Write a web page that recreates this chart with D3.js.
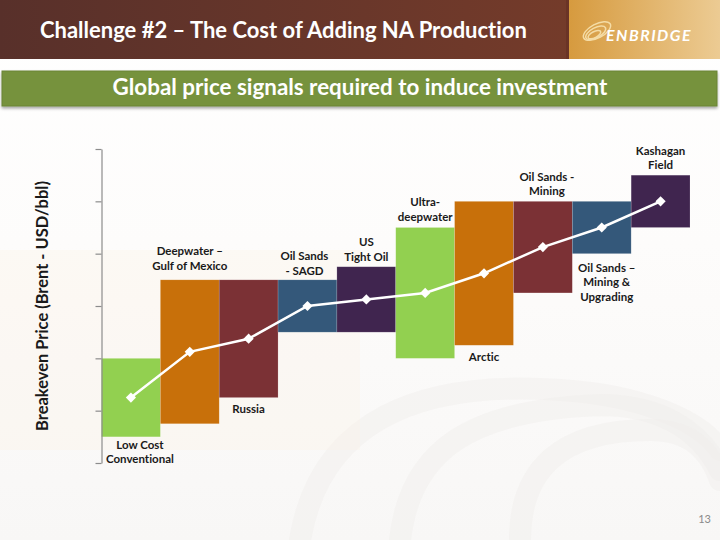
<!DOCTYPE html>
<html>
<head>
<meta charset="utf-8">
<script src="https://cdn.jsdelivr.net/npm/d3@7/dist/d3.min.js"></script>
<style>
  html, body { margin: 0; padding: 0; background: #fff; }
  svg { display: block; }
  text { font-family: Lato, "Open Sans", sans-serif; font-variant-ligatures: none; }
</style>
</head>
<body>
<svg id="chart" width="720" height="540"></svg>
<script>
// ---------- data ----------
const categories = ["Low Cost Conventional", "Deepwater – Gulf of Mexico", "Russia", "Oil Sands - SAGD",
  "US Tight Oil", "Ultra-deepwater", "Arctic", "Oil Sands - Mining", "Oil Sands – Mining & Upgrading", "Kashagan Field"];
const lowValues  = [10, 15, 25, 50, 50, 40, 45, 65, 80, 90];
const highValues = [40, 70, 70, 70, 75, 90, 100, 100, 100, 110];
const midValues  = [25, 42.5, 47.5, 60, 62.5, 65, 72.5, 82.5, 90, 100];
const barColors  = ["#92D050", "#C8700A", "#7B3135", "#34587A", "#40254F",
                    "#92D050", "#C8700A", "#7B3135", "#34587A", "#40254F"];
const labelLines = [["Low Cost", "Conventional"], ["Deepwater –", "Gulf of Mexico"], ["Russia"],
  ["Oil Sands", "- SAGD"], ["US", "Tight Oil"], ["Ultra-", "deepwater"], ["Arctic"],
  ["Oil Sands -", "Mining"], ["Oil Sands –", "Mining &", "Upgrading"], ["Kashagan", "Field"]];
const labelSide  = ["bottom", "top", "bottom", "top", "top", "top", "bottom", "top", "bottom", "top"];
const yTicks = [0, 20, 40, 60, 80, 100, 120];
const titleText = "Challenge #2 – The Cost of Adding NA Production";
const subtitleText = "Global price signals required to induce investment";
const yAxisTitle = "Breakeven Price (Brent - USD/bbl)";
const pageNumber = "13";

// ---------- setup ----------
const svg = d3.select("#chart");
const defs = svg.append("defs");

function fitText(sel, target) {
  const w = sel.node().getComputedTextLength();
  const fs = parseFloat(sel.attr("font-size"));
  sel.attr("font-size", (fs * target / w).toFixed(2));
}

// background
const bg = defs.append("linearGradient").attr("id", "bgGrad").attr("x1", 0).attr("y1", 0).attr("x2", 0).attr("y2", 1);
bg.append("stop").attr("offset", "0%").attr("stop-color", "#ffffff");
bg.append("stop").attr("offset", "45%").attr("stop-color", "#fdfcfb");
bg.append("stop").attr("offset", "100%").attr("stop-color", "#f8f7f6");
svg.append("rect").attr("width", 720).attr("height", 540).attr("fill", "url(#bgGrad)");

// faint pipe-like background shapes
const bgG = svg.append("g").attr("fill", "none").attr("stroke-linecap", "round");
const arcs = [
  "M 300 540 C 320 420, 420 380, 560 390 C 640 395, 700 420, 720 450",
  "M 400 540 C 410 450, 470 410, 600 405 C 660 405, 700 430, 720 470",
  "M 520 540 C 520 470, 560 430, 650 430 C 690 430, 710 450, 720 480"
];
bgG.selectAll("path").data(arcs).enter().append("path")
  .attr("d", d => d).attr("stroke", "#efeeec").attr("stroke-width", 22).attr("opacity", 0.45);
svg.append("rect").attr("x", 0).attr("y", 250).attr("width", 360).attr("height", 200)
  .attr("fill", "#fdf3e6").attr("opacity", 0.3);

// ---------- header ----------
const hg = defs.append("linearGradient").attr("id", "hdrGrad");
hg.append("stop").attr("offset", "0%").attr("stop-color", "#58302A");
hg.append("stop").attr("offset", "100%").attr("stop-color", "#743B2A");
svg.append("rect").attr("x", 0).attr("y", 0).attr("width", 568).attr("height", 59).attr("fill", "url(#hdrGrad)");

const lg = defs.append("linearGradient").attr("id", "logoGrad");
lg.append("stop").attr("offset", "0%").attr("stop-color", "#D69A3E");
lg.append("stop").attr("offset", "100%").attr("stop-color", "#ECCB93");
svg.append("rect").attr("x", 568).attr("y", 0).attr("width", 152).attr("height", 59).attr("fill", "url(#logoGrad)");
svg.append("rect").attr("x", 566).attr("y", 0).attr("width", 3).attr("height", 59).attr("fill", "#6a3326");

const title = svg.append("text").attr("x", 40).attr("y", 38).attr("fill", "#fff")
  .attr("font-weight", "bold").attr("font-size", 20).text(titleText);
fitText(title, 487);

// logo swirl
const sw = svg.append("g").attr("transform", "translate(597,31) rotate(-28)").attr("fill", "none")
  .attr("stroke", "#F4DCA6").attr("stroke-width", 1.5);
sw.append("ellipse").attr("rx", 15).attr("ry", 7);
sw.append("ellipse").attr("cx", -2).attr("cy", 1).attr("rx", 11).attr("ry", 5);
sw.append("ellipse").attr("cx", -4).attr("cy", 2).attr("rx", 7).attr("ry", 3);
const logoText = svg.append("text").attr("x", 606).attr("y", 41).attr("fill", "#fff")
  .attr("font-family", "'DejaVu Sans', sans-serif").attr("font-weight", "bold").attr("font-style", "italic")
  .attr("font-size", 12).attr("letter-spacing", 1.5).text("ENBRIDGE");
fitText(logoText, 90);

// ---------- subtitle bar ----------
const sh = defs.append("filter").attr("id", "shadow").attr("x", "-5%").attr("y", "-20%").attr("width", "110%").attr("height", "160%");
sh.append("feDropShadow").attr("dx", 0).attr("dy", 2).attr("stdDeviation", 1.5).attr("flood-color", "#000").attr("flood-opacity", 0.35);
svg.append("rect").attr("x", 2).attr("y", 71).attr("width", 715).attr("height", 35)
  .attr("fill", "#76923C").attr("stroke", "#6a8436").attr("stroke-width", 1).attr("filter", "url(#shadow)");
const sub = svg.append("text").attr("x", 360).attr("y", 95).attr("text-anchor", "middle").attr("fill", "#fff")
  .attr("font-weight", "bold").attr("font-size", 19).text(subtitleText);
fitText(sub, 495);

// ---------- chart ----------
const y = d3.scaleLinear().domain([0, 120]).range([463, 149]);
const x = d3.scaleBand().domain(categories).range([101.5, 690]).padding(0);

// bars
svg.append("g").selectAll("rect").data(categories).enter().append("rect")
  .attr("x", d => x(d)).attr("width", x.bandwidth())
  .attr("y", (d, i) => y(highValues[i]))
  .attr("height", (d, i) => y(lowValues[i]) - y(highValues[i]))
  .attr("fill", (d, i) => barColors[i])
  .attr("stroke", "rgba(255,255,255,0.25)").attr("stroke-width", 0.6);

// axis
const axis = svg.append("g").attr("transform", "translate(101.5,0)")
  .call(d3.axisLeft(y).tickValues(yTicks).tickSize(6).tickSizeOuter(0).tickFormat(""));
axis.select(".domain").attr("stroke", "#8c8c8c").attr("stroke-width", 1.2);
axis.selectAll(".tick line").attr("stroke", "#8c8c8c").attr("stroke-width", 1.2);

// midpoint line + markers
const line = d3.line().x(d => x(d) + x.bandwidth() / 2).y((d, i) => y(midValues[i]));
svg.append("path").datum(categories).attr("d", line)
  .attr("fill", "none").attr("stroke", "#fff").attr("stroke-width", 2.5);
svg.append("g").selectAll("path").data(categories).enter().append("path")
  .attr("d", d3.symbol().type(d3.symbolSquare).size(52))
  .attr("transform", (d, i) => `translate(${x(d) + x.bandwidth() / 2},${y(midValues[i])}) rotate(45)`)
  .attr("fill", "#fff");

// category labels
const lineH = 14.5;
const labelNudgeX = [9, 0, 0, -3, 0, 0, 0, 4, 5, 0];
const labelNudgeY = [-3, -4, 0, 1, 0, -1, 1, 0, 3, 0];
const lab = svg.append("g").attr("fill", "#1a1a1a").attr("font-weight", "bold").attr("font-size", 11.5)
  .attr("text-anchor", "middle");
categories.forEach((c, i) => {
  const cx = x(c) + x.bandwidth() / 2 + labelNudgeX[i];
  const lines = labelLines[i];
  let firstBaseline;
  if (labelSide[i] === "top") {
    firstBaseline = y(highValues[i]) - 6 - (lines.length - 1) * lineH + labelNudgeY[i];
  } else {
    firstBaseline = y(lowValues[i]) + 15 + labelNudgeY[i];
  }
  const t = lab.append("text").attr("x", cx).attr("y", firstBaseline);
  lines.forEach((l, k) => {
    t.append("tspan").attr("x", cx).attr("dy", k === 0 ? 0 : lineH).text(l);
  });
});

// y axis title
const yt = svg.append("text").attr("transform", "translate(48,306) rotate(-90)").attr("text-anchor", "middle")
  .attr("fill", "#1a1a1a").attr("font-weight", "bold").attr("font-size", 15.5).text(yAxisTitle);
fitText(yt, 250);

// page number
svg.append("text").attr("x", 711).attr("y", 523).attr("text-anchor", "end").attr("fill", "#8a8a8a")
  .attr("font-size", 11).text(pageNumber);
</script>
</body>
</html>
